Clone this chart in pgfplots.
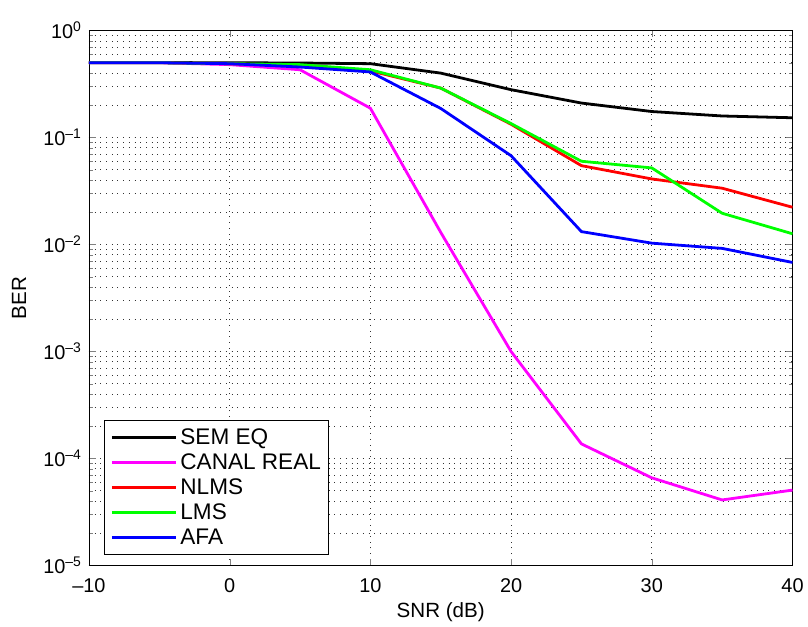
\documentclass[border=0pt]{standalone}
\usepackage{fontspec}
\setmainfont{Liberation Sans}
\usepackage{pgfplots}
\pgfplotsset{compat=1.18}
\definecolor{mmag}{rgb}{1,0,1}
\definecolor{mgreen}{rgb}{0,1,0}
\definecolor{mred}{rgb}{1,0,0}
\definecolor{mblue}{rgb}{0,0,1}
\begin{document}
\begin{tikzpicture}
\begin{axis}[name=ax,
  scale only axis, width=530pt, height=403pt,
  ymode=log, xmin=-10, xmax=40, ymin=1e-5, ymax=1,
  xtick={-10,0,10,20,30,40}, xticklabels={–10,0,10,20,30,40},
  ytick={1e-5,1e-4,1e-3,1e-2,1e-1,1},
  yticklabels={10\textsuperscript{–5},10\textsuperscript{–4},10\textsuperscript{–3},10\textsuperscript{–2},10\textsuperscript{–1},10\textsuperscript{0}},
  tick align=inside, tick pos=both,
  major tick length=5pt, minor tick length=3pt,
  grid=both, major grid style={black!80, dash pattern=on 0.7pt off 3.6pt, line width=0.6pt},
  minor grid style={black!80, dash pattern=on 0.7pt off 3.6pt, line width=0.6pt},
  minor x tick num=0,
  font=\fontsize{15.5}{18}\selectfont,
  ticklabel style={font=\fontsize{15}{18}\selectfont},
  xticklabel style={yshift=-6pt},
  yticklabel style={xshift=-2pt, yshift=0pt},
  xlabel={SNR (dB)}, ylabel={BER},
  xlabel style={yshift=-1pt}, ylabel style={yshift=6pt},
  axis line style={line width=0.6pt},
  every axis plot/.append style={line width=2.1pt},
  legend style={at={(0.022,0.02)}, anchor=south west, draw=black, line width=0.6pt, font=\fontsize{17}{20}\selectfont, row sep=1.5pt, inner sep=4pt, cells={anchor=west}},
  legend image code/.code={\draw[#1, line width=2.6pt] (0cm,0cm) -- (1.7cm,0cm);},
]
\addplot[black] coordinates {(-10,0.503) (-5,0.502) (0,0.5) (5,0.497) (10,0.49) (15,0.40) (20,0.28) (25,0.21) (30,0.175) (35,0.159) (40,0.153)};
\addlegendentry{SEM EQ}
\addplot[mmag] coordinates {(-10,0.5) (-5,0.5) (0,0.48) (5,0.43) (10,0.188) (15,0.013) (20,0.001) (25,1.37e-4) (30,6.6e-5) (35,4.1e-5) (40,5.07e-5)};
\addlegendentry{CANAL REAL}
\addplot[mred] coordinates {(-10,0.5) (-5,0.5) (0,0.49) (5,0.47) (10,0.42) (15,0.29) (20,0.133) (25,0.0546) (30,0.041) (35,0.0336) (40,0.0223)};
\addlegendentry{NLMS}
\addplot[mgreen] coordinates {(-10,0.5) (-5,0.5) (0,0.49) (5,0.48) (10,0.43) (15,0.29) (20,0.135) (25,0.060) (30,0.052) (35,0.0196) (40,0.0126)};
\addlegendentry{LMS}
\addplot[mblue] coordinates {(-10,0.5) (-5,0.5) (0,0.49) (5,0.456) (10,0.41) (15,0.187) (20,0.0676) (25,0.0132) (30,0.0103) (35,0.0092) (40,0.0068)};
\addlegendentry{AFA}
\end{axis}
\path ([xshift=-67pt,yshift=-42pt]ax.south west) rectangle ([xshift=9pt,yshift=23pt]ax.north east);
\end{tikzpicture}
\end{document}
